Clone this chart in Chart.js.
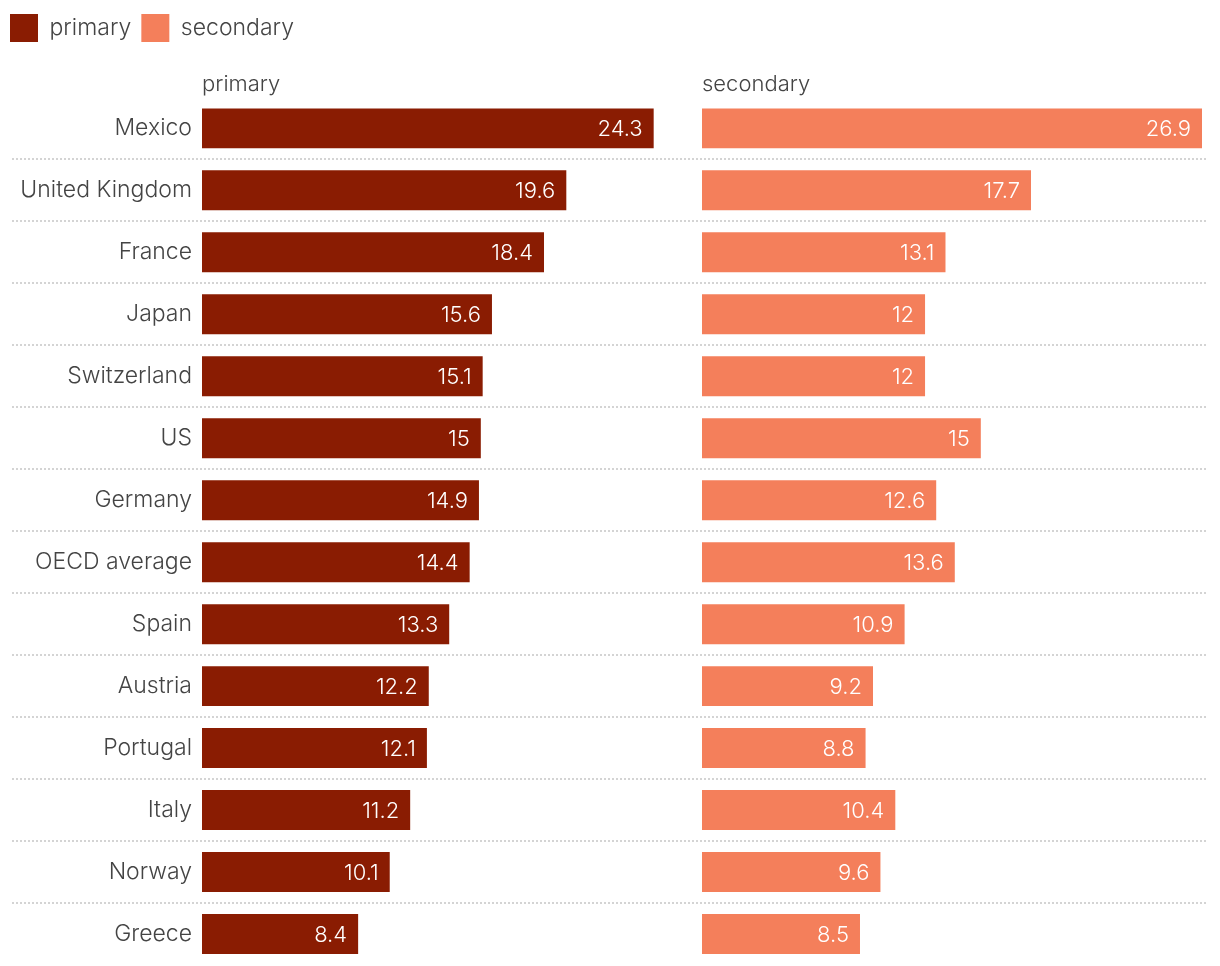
<!DOCTYPE html>
<html>
<head>
<title>primary vs secondary</title>
<script src="https://cdn.jsdelivr.net/npm/chart.js@4.4.1/dist/chart.umd.min.js"></script>
<style>
body { margin:0; background:#fff; }
#wrap { position:relative; width:1220px; height:966px; }
</style>
</head>
<body>
<div id="wrap"><canvas id="myChart"></canvas></div>
<script>
var countries = ['Mexico','United Kingdom','France','Japan','Switzerland','US','Germany','OECD average','Spain','Austria','Portugal','Italy','Norway','Greece'];
var primary   = [24.3, 19.6, 18.4, 15.6, 15.1, 15, 14.9, 14.4, 13.3, 12.2, 12.1, 11.2, 10.1, 8.4];
var secondary = [26.9, 17.7, 13.1, 12, 12, 15, 12.6, 13.6, 10.9, 9.2, 8.8, 10.4, 9.6, 8.5];
var seriesNames = ['primary', 'secondary'];
var colors = ['#8a1c02', '#f47f5b'];

var FONT = 'Inter, "Noto Sans", sans-serif';
var maxVal = Math.max.apply(null, primary.concat(secondary));

// white value text at the end of each bar
var valueLabels = {
  id: 'valueLabels',
  afterDatasetsDraw: function(chart) {
    var ctx = chart.ctx;
    ctx.save();
    ctx.font = '300 22px ' + FONT;
    ctx.fillStyle = '#fff';
    ctx.textAlign = 'right';
    ctx.textBaseline = 'middle';
    chart.data.datasets.forEach(function(ds, i) {
      chart.getDatasetMeta(i).data.forEach(function(bar, j) {
        ctx.fillText(String(ds.data[j]), bar.x - 11, bar.y + 1);
      });
    });
    ctx.restore();
  }
};

// dotted separators between rows, across the whole width
var rowLines = {
  id: 'rowLines',
  beforeDatasetsDraw: function(chart) {
    var ctx = chart.ctx, y = chart.scales.y;
    ctx.save();
    ctx.strokeStyle = '#d4d4d4';
    ctx.lineWidth = 2;
    ctx.setLineDash([2, 2]);
    for (var i = 0; i < countries.length - 1; i++) {
      var py = Math.round((y.getPixelForValue(i) + y.getPixelForValue(i + 1)) / 2);
      ctx.beginPath();
      ctx.moveTo(12, py);
      ctx.lineTo(1208, py);
      ctx.stroke();
    }
    ctx.restore();
  }
};

function panelAxis(title) {
  return {
    position: 'top', stack: 'panels', stackWeight: 1,
    min: 0, max: maxVal,
    ticks: { display: false },
    grid: { display: false, drawTicks: false },
    border: { display: false },
    title: { display: true, text: title, align: 'start', color: '#444',
             font: { family: FONT, size: 22, weight: 300 }, padding: { top: 19, bottom: 0 } }
  };
}

var ctx = document.getElementById('myChart').getContext('2d');
var chart = new Chart(ctx, {
  type: 'bar',
  data: {
    labels: countries,
    datasets: [
      { label: seriesNames[0], data: primary, backgroundColor: colors[0], xAxisID: 'x',
        grouped: false, categoryPercentage: 1, barPercentage: 0.645 },
      { label: seriesNames[1], data: secondary, backgroundColor: colors[1], xAxisID: 'x2',
        grouped: false, categoryPercentage: 1, barPercentage: 0.645 }
    ]
  },
  options: {
    indexAxis: 'y',
    responsive: true,
    maintainAspectRatio: false,
    animation: false,
    layout: { padding: { left: 0, right: 18, top: 4, bottom: 1 } },
    plugins: {
      legend: {
        position: 'top', align: 'start',
        labels: { boxWidth: 28, boxHeight: 28, padding: 10, color: '#444',
                  font: { family: FONT, size: 23, weight: 300 } }
      },
      tooltip: { enabled: false }
    },
    scales: {
      // top boxes get laid out in reverse, so the right-hand panel comes first
      x2: panelAxis(seriesNames[1]),
      x: panelAxis(seriesNames[0]),
      y: {
        // tiny lineHeight + zero padding so the labels don't reserve space below the last row;
        // the (hidden) tick length gives the 10px gap to the bars instead
        ticks: { color: '#444', padding: 0, font: { family: FONT, size: 23, weight: 300, lineHeight: 0.01 } },
        grid: { display: false, drawTicks: true, tickLength: 10 },
        border: { display: false },
        afterFit: function(s) { s.width = 202; }
      }
    }
  },
  plugins: [rowLines, valueLabels]
});
</script>
</body>
</html>
